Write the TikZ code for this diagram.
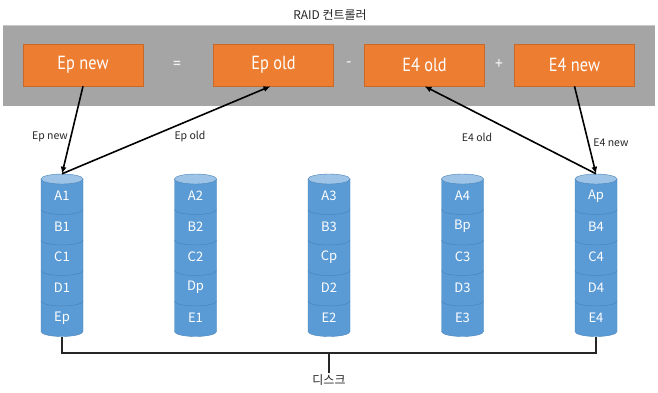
\documentclass[tikz,border=0pt]{standalone}
\usepackage{fontspec}
\setmainfont{Noto Sans CJK KR}
\newfontfamily\boxfont{PT Sans}[FakeStretch=0.86]
\usepackage{tikz}
\usetikzlibrary{arrows.meta,positioning,calc}
\definecolor{band}{HTML}{A5A5A5}
\definecolor{bandline}{HTML}{C8C8C8}
\definecolor{orng}{HTML}{ED7D31}
\definecolor{orngline}{HTML}{C8692A}
\definecolor{disk}{HTML}{5B9BD5}
\definecolor{disktop}{HTML}{9DC3E6}
\definecolor{diskline}{HTML}{4A84BA}
\definecolor{ink}{HTML}{262626}
\tikzset{
  opbox/.style={draw=orngline,fill=orng,line width=0.5pt,minimum width=120pt,minimum height=42pt,inner sep=0pt,text=white,font=\boxfont\fontsize{19}{21}\selectfont},
  opsign/.style={text=white!85!band,font=\boxfont\fontsize{18}{20}\selectfont},
  lbl/.style={text=ink,font=\fontsize{10.5}{12}\selectfont},
  seg/.style={text=white,font=\fontsize{13}{15}\selectfont},
  arrow/.style={-{Latex[length=7pt,width=6pt]},line width=1.6pt,color=black},
  bus/.style={line width=1.2pt,color=ink},
  body/.style={fill=disk,draw=diskline,line width=0.4pt},
  divider/.style={draw=diskline,line width=0.5pt},
}
\begin{document}
\begin{tikzpicture}[x=1pt,y=1pt]
    \useasboundingbox (0,0) rectangle (658,392);
    % controller
    \node[lbl,font=\fontsize{12}{14}\selectfont] (title) at (330,377) {RAID 컨트롤러};
    \fill[band] (3,286) rectangle (655,367);
    \draw[bandline,line width=0.8pt] (3,367) -- (655,367);
    \node[opbox] (epnew) at (83,327) {Ep new};
    \node[opsign] (eq) at (177,327) {=};
    \node[opbox] (epold) at (273.5,327) {Ep old};
    \node[opsign] (minus) at (349,327) {-};
    \node[opbox] (efold) at (424.5,327) {E4 old};
    \node[opsign] (plus) at (499,327) {+};
    \node[opbox] (efnew) at (574.5,327) {E4 new};
    % disks
    \foreach \i/\x/\a/\b/\c/\d/\e in {1/62/A1/B1/C1/D1/Ep, 2/195.5/A2/B2/C2/Dp/E1, 3/329/A3/B3/Cp/D2/E2, 4/462.5/A4/Bp/C3/D3/E3, 5/596/Ap/B4/C4/D4/E4} {
      \node[minimum width=42pt,minimum height=162.5pt,inner sep=0pt] (d\i) at (\x,136.75) {};
      \path[body] (\x-21,213) -- (\x-21,60.5) arc[start angle=180,end angle=360,x radius=21,y radius=5] -- (\x+21,213) -- cycle;
      \foreach \k in {1,...,4}
        \draw[divider] (\x-21,213-\k*30.5) arc[start angle=180,end angle=360,x radius=21,y radius=5];
      \filldraw[fill=disktop,draw=diskline,line width=0.4pt] (\x,213) ellipse[x radius=21,y radius=5];
      \node[seg] (d\i a) at (\x,196) {\a};
      \node[seg] (d\i b) at (\x,165.5) {\b};
      \node[seg] (d\i c) at (\x,135) {\c};
      \node[seg] (d\i d) at (\x,104.5) {\d};
      \node[seg] (d\i e) at (\x,74) {\e};
    }
    % parity update
    \draw[arrow] (epnew.south) -- (d1.north);
    \draw[arrow] (d1.north) -- ([xshift=-3pt]epold.south);
    \draw[arrow] (d5.north) -- (efold.south);
    \draw[arrow] (efnew.south) -- (d5.north);
    \node[lbl] (lepnew) at (50,255) {Ep new};
    \node[lbl] (lepold) at (190,255) {Ep old};
    \node[lbl] (lefold) at (477,255) {E4 old};
    \node[lbl] (lefnew) at (611,249) {E4 new};
    % bus
    \coordinate (hub) at (329,39);
    \node[lbl,font=\fontsize{12}{14}\selectfont,anchor=north,inner sep=1pt] (disks) at (329,19) {디스크};
    \draw[bus] (d1.south) |- (hub) -| (d5.south);
    \draw[bus] (hub) -- (disks.north);
\end{tikzpicture}
\end{document}
